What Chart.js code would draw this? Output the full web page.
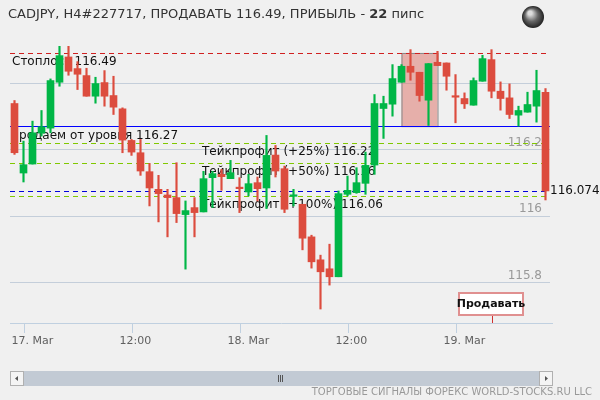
<!DOCTYPE html>
<html><head><meta charset="utf-8">
<script src="https://cdn.jsdelivr.net/npm/chart.js@4"></script>
<style>html,body{margin:0;padding:0;background:#f0f0f0}#w{width:600px;height:400px}</style>
</head><body><div id="w"><canvas id="c" width="600" height="400"></canvas></div>
<script>
const opens  = [116.338,116.129,116.156,116.249,116.264,116.402,116.478,116.443,116.422,116.360,116.401,116.362,116.322,116.227,116.190,116.133,116.080,116.063,116.055,116.004,116.025,116.012,116.115,116.125,116.112,116.083,116.072,116.100,116.084,116.183,116.142,116.059,116.035,115.937,115.868,115.841,115.817,116.065,116.070,116.098,116.153,116.323,116.336,116.402,116.450,116.432,116.348,116.462,116.460,116.358,116.353,116.333,116.405,116.470,116.375,116.355,116.303,116.312,116.330,116.372];
const highs  = [116.347,116.225,116.285,116.317,116.412,116.510,116.510,116.464,116.444,116.417,116.437,116.420,116.325,116.230,116.230,116.158,116.122,116.080,116.160,116.045,116.055,116.134,116.134,116.140,116.167,116.115,116.125,116.117,116.242,116.212,116.150,116.080,116.035,115.942,115.882,115.915,116.075,116.120,116.145,116.192,116.365,116.360,116.455,116.455,116.500,116.432,116.458,116.495,116.460,116.425,116.370,116.415,116.483,116.500,116.403,116.397,116.330,116.372,116.438,116.383];
const lows   = [116.185,116.102,116.156,116.240,116.250,116.390,116.423,116.380,116.360,116.339,116.330,116.305,116.190,116.182,116.122,116.030,115.982,115.937,115.980,115.840,115.937,116.012,116.025,116.077,116.112,116.010,116.060,116.045,116.022,116.117,116.010,116.030,115.898,115.843,115.720,115.792,115.817,116.060,116.068,116.065,116.125,116.233,116.300,116.402,116.408,116.345,116.272,116.452,116.378,116.280,116.323,116.333,116.405,116.355,116.318,116.293,116.270,116.312,116.282,116.048];
const closes = [116.190,116.154,116.250,116.268,116.407,116.482,116.435,116.426,116.360,116.398,116.360,116.327,116.228,116.192,116.135,116.084,116.067,116.055,116.007,116.016,116.010,116.112,116.127,116.118,116.130,116.082,116.097,116.082,116.182,116.135,116.020,116.060,115.933,115.862,115.832,115.817,116.067,116.077,116.100,116.152,116.338,116.338,116.413,116.450,116.432,116.362,116.458,116.452,116.420,116.357,116.337,116.407,116.473,116.375,116.353,116.305,116.317,116.335,116.377,116.075];
const tickIdx = [1,13,25,37,49];
const tickLabels = ['17. Mar','12:00','18. Mar','12:00','19. Mar'];
const gridVals = [116.4,116.2,116.0,115.8];
const gridLabels = ['','116.2','116','115.8'];
const stopLoss = 116.49, entry = 116.27, current = 116.074;
const takeProfits = [116.22,116.16,116.06];
const tpLabels = ['Тейкпрофит (+25%) 116.22','Тейкпрофит (+50%) 116.16','Тейкпрофит (+100%) 116.06'];
const zoneX = [43,47], zoneY = [116.27,116.49];

const GREEN='#00b646', RED='#dc4c3e';
const labels = opens.map((_,i)=>i);
const colors = opens.map((o,i)=> closes[i]>=o?GREEN:RED);

const bg = {id:'bg', beforeDraw(ch){const c=ch.ctx;c.save();c.fillStyle='#f0f0f0';c.fillRect(0,0,600,400);
  const y=ch.scales.y, x=ch.scales.x, a=ch.chartArea;
  c.strokeStyle='#c4ceda';c.lineWidth=1;
  gridVals.forEach(v=>{const py=Math.round(y.getPixelForValue(v))+0.5;c.beginPath();c.moveTo(a.left,py);c.lineTo(a.right,py);c.stroke();});
  c.font='12px "DejaVu Sans"';c.fillStyle='#999';c.textAlign='right';c.textBaseline='bottom';
  gridVals.forEach((v,i)=>{if(gridLabels[i])c.fillText(gridLabels[i],a.right-8,y.getPixelForValue(v)-1);});
  const x0=x.getPixelForValue(zoneX[0]), x1=x.getPixelForValue(zoneX[1]);
  const y0=y.getPixelForValue(zoneY[1]), y1=y.getPixelForValue(zoneY[0]);
  c.fillStyle='rgba(220,110,100,0.5)';c.fillRect(x0,y0,x1-x0,y1-y0);
  c.strokeStyle='#888';c.lineWidth=1;c.strokeRect(x0+0.5,y0+0.5,x1-x0,y1-y0);
  const hl=(v,col,dash,w)=>{const py=Math.round(y.getPixelForValue(v))+0.5;c.strokeStyle=col;c.lineWidth=w||1;c.setLineDash(dash);c.beginPath();c.moveTo(a.left,py);c.lineTo(a.right,py);c.stroke();c.setLineDash([]);};
  hl(stopLoss,'#d02020',[5,4]);
  hl(entry,'#0000ff',[],1.2);
  takeProfits.forEach(v=>hl(v,'#80c800',[5,4]));
  hl(current,'#0000dd',[5,4]);
  c.fillStyle='#111';c.font='12px "DejaVu Sans"';c.textAlign='left';c.textBaseline='middle';
  c.fillText('Стоплосс 116.49',12,y.getPixelForValue(stopLoss)+9);
  c.fillText('Продаем от уровня 116.27',10,y.getPixelForValue(entry)+10);
  tpLabels.forEach((t,i)=>c.fillText(t,202,y.getPixelForValue(takeProfits[i])+9));
  c.restore();
}};
const fg = {id:'fg', afterDraw(ch){const c=ch.ctx;c.save();const x=ch.scales.x,y=ch.scales.y,a=ch.chartArea;
  c.fillStyle='#111';c.font='12px "DejaVu Sans"';c.textAlign='left';c.textBaseline='middle';
  c.fillText(current.toFixed(3),a.right,y.getPixelForValue(current));
  c.strokeStyle='#c0d0e0';c.lineWidth=1;c.beginPath();c.moveTo(10,323.5);c.lineTo(553,323.5);c.stroke();
  c.font='11px "DejaVu Sans"';c.fillStyle='#606060';c.textAlign='left';c.textBaseline='middle';
  tickIdx.forEach((t,i)=>{const px=Math.round(x.getPixelForValue(t))+0.5;c.beginPath();c.moveTo(px,323);c.lineTo(px,333);c.stroke();
    c.fillText(tickLabels[i],px-13,341);});
  const mx=Math.round(x.getPixelForValue(53))+0.5;
  c.strokeStyle='#d03030';c.beginPath();c.moveTo(mx,316);c.lineTo(mx,323);c.stroke();
  c.fillStyle='#fff';c.fillRect(459,293,64,22);c.strokeStyle='#e09090';c.lineWidth=2;c.strokeRect(459,293,64,22);
  c.fillStyle='#111';c.font='bold 11px "DejaVu Sans"';c.textAlign='center';c.fillText('Продавать',491,304.5);
  c.fillStyle='#c2cad4';c.fillRect(10,371,543,15);
  c.fillStyle='#f4f4f4';c.strokeStyle='#b0b0b0';c.lineWidth=1;
  c.fillRect(10.5,371.5,13,14);c.strokeRect(10.5,371.5,13,14);c.fillRect(539.5,371.5,13,14);c.strokeRect(539.5,371.5,13,14);
  c.fillStyle='#555';c.beginPath();c.moveTo(15,378.5);c.lineTo(18,376);c.lineTo(18,381);c.fill();
  c.beginPath();c.moveTo(548,378.5);c.lineTo(545,376);c.lineTo(545,381);c.fill();
  [278,280,282].forEach(px=>c.fillRect(px,375,1,7));
  c.font='10px "DejaVu Sans"';c.fillStyle='#999';c.textAlign='right';c.fillText('ТОРГОВЫЕ СИГНАЛЫ ФОРЕКС WORLD-STOCKS.RU LLC',592,392);
  c.textAlign='left';c.fillStyle='#333';c.font='13px "DejaVu Sans"';
  let s='CADJPY, H4#227717, ПРОДАВАТЬ 116.49, ПРИБЫЛЬ - ';c.fillText(s,8,15);
  let w=c.measureText(s).width;c.font='bold 13px "DejaVu Sans"';c.fillText('22',8+w,15);
  let w2=c.measureText('22').width;c.font='13px "DejaVu Sans"';c.fillText(' пипс',8+w+w2,15);
  const g=c.createRadialGradient(530,13,2,533,17,11);g.addColorStop(0,'#ddd');g.addColorStop(0.5,'#666');g.addColorStop(1,'#222');
  c.fillStyle=g;c.beginPath();c.arc(533,17,11,0,Math.PI*2);c.fill();
  c.restore();
}};
new Chart(document.getElementById('c'),{
  type:'bar',
  data:{labels,datasets:[
    {data:opens.map((o,i)=>[lows[i],highs[i]]),backgroundColor:colors,barThickness:1.5,grouped:false,order:2},
    {data:opens.map((o,i)=>[o,closes[i]]),backgroundColor:colors,barThickness:7,grouped:false,minBarLength:1.5,order:1}
  ]},
  options:{responsive:false,animation:false,devicePixelRatio:1,
    layout:{padding:{left:10,right:50,top:40,bottom:77}},
    plugins:{legend:{display:false},tooltip:{enabled:false}},
    scales:{x:{display:false,offset:true},y:{display:false,min:115.678,max:116.529}}},
  plugins:[bg,fg]
});
</script></body></html>
